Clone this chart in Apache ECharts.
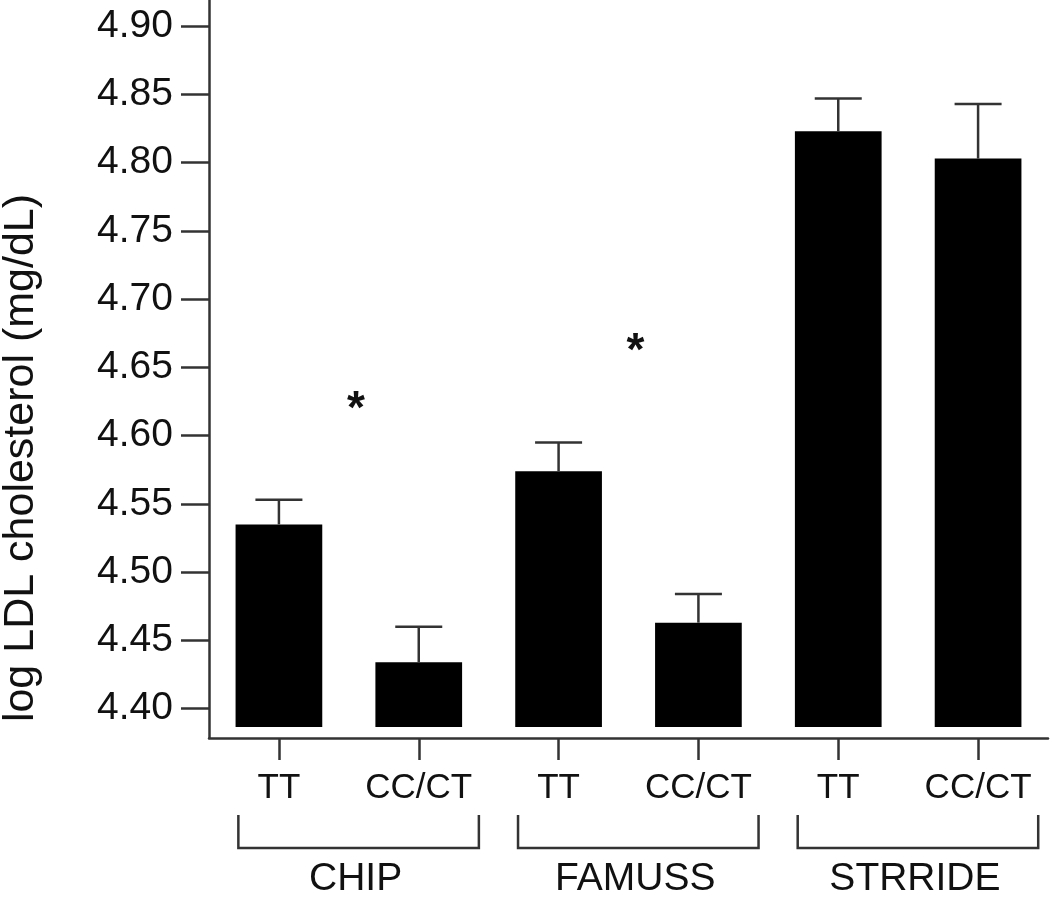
<!DOCTYPE html>
<html>
<head>
<meta charset="utf-8">
<script src="https://cdn.jsdelivr.net/npm/echarts@6/dist/echarts.min.js"></script>
<style>
html,body{margin:0;padding:0;background:#ffffff;}
#chart{width:1050px;height:900px;}
</style>
</head>
<body>
<div id="chart"></div>
<script>
// ---- data ----
const categories = ['TT', 'CC/CT', 'TT', 'CC/CT', 'TT', 'CC/CT'];
const groupNames = ['CHIP', 'FAMUSS', 'STRRIDE'];
const meanValues = [4.535, 4.434, 4.574, 4.463, 4.823, 4.803];
const errorTopValues = [4.553, 4.460, 4.595, 4.484, 4.847, 4.843];
const yTickValues = [4.40, 4.45, 4.50, 4.55, 4.60, 4.65, 4.70, 4.75, 4.80, 4.85, 4.90];
const significantGroups = [0, 1];
const yAxisTitle = 'log LDL cholesterol (mg/dL)';
const barBaseValue = 4.3866;
const yAxisMin = 4.3785;
const yAxisMax = 4.9192;

// ---- styles ----
const FONT = '"Liberation Sans", Arial, Helvetica, sans-serif';
const LINE = '#333333';
const TEXT = '#111111';

const chart = echarts.init(document.getElementById('chart'), null, { renderer: 'canvas' });

const option = {
  animation: false,
  backgroundColor: '#ffffff',
  grid: { left: 209, right: 2, top: 0, bottom: 162, containLabel: false },
  xAxis: {
    type: 'category',
    data: categories,
    boundaryGap: true,
    axisLine: { show: true, onZero: false, lineStyle: { color: LINE, width: 2.5 } },
    axisTick: { show: true, alignWithLabel: true, length: 22, lineStyle: { color: LINE, width: 2.5 } },
    axisLabel: { show: true, interval: 0, margin: 33, fontSize: 35, lineHeight: 35, color: TEXT, fontFamily: FONT },
    splitLine: { show: false }
  },
  yAxis: {
    type: 'value',
    min: yAxisMin,
    max: yAxisMax,
    axisLine: { show: true, lineStyle: { color: LINE, width: 2.5 } },
    axisTick: { show: true, length: 28, customValues: yTickValues, lineStyle: { color: LINE, width: 2.5 } },
    axisLabel: {
      show: true,
      customValues: yTickValues,
      formatter: function (v) { return Number(v).toFixed(2); },
      margin: 36,
      fontSize: 39,
      color: TEXT,
      fontFamily: FONT
    },
    splitLine: { show: false }
  },
  graphic: [
    {
      type: 'text',
      x: 21,
      y: 458,
      rotation: Math.PI / 2,
      style: {
        text: yAxisTitle,
        fontSize: 43,
        fontFamily: FONT,
        fill: TEXT,
        align: 'center',
        verticalAlign: 'middle'
      }
    }
  ],
  series: [
    {
      name: 'Mean',
      type: 'custom',
      data: meanValues.map(function (v, i) { return [i, v]; }),
      encode: { x: 0, y: 1 },
      renderItem: function (params, api) {
        const i = api.value(0);
        const top = api.coord([i, api.value(1)]);
        const bottom = api.coord([i, barBaseValue]);
        const w = api.size([1, 0])[0] * 0.62;
        return {
          type: 'rect',
          shape: { x: top[0] - w / 2, y: top[1], width: w, height: bottom[1] - top[1] },
          style: { fill: '#000000' }
        };
      },
      z: 2
    },
    {
      name: 'SE',
      type: 'custom',
      data: meanValues.map(function (v, i) { return [i, v, errorTopValues[i]]; }),
      encode: { x: 0, y: [1, 2] },
      renderItem: function (params, api) {
        const i = api.value(0);
        const p0 = api.coord([i, api.value(1)]);
        const p1 = api.coord([i, api.value(2)]);
        const half = 23.5;
        const st = { stroke: LINE, lineWidth: 2.5 };
        return {
          type: 'group',
          children: [
            { type: 'line', shape: { x1: p0[0], y1: p0[1], x2: p1[0], y2: p1[1] }, style: st },
            { type: 'line', shape: { x1: p1[0] - half, y1: p1[1], x2: p1[0] + half, y2: p1[1] }, style: st }
          ]
        };
      },
      z: 3
    },
    {
      name: 'Groups',
      type: 'custom',
      clip: false,
      data: groupNames.map(function (n, g) { return [2 * g, 2 * g + 1]; }),
      renderItem: function (params, api) {
        const a = api.value(0), b = api.value(1);
        const band = api.size([1, 0])[0];
        const ca = api.coord([a, yAxisMin]);
        const cb = api.coord([b, yAxisMin]);
        const axisY = ca[1];
        const left = ca[0] - 0.29 * band;
        const right = cb[0] + 0.43 * band;
        const yTop = axisY + 77;
        const yBot = axisY + 110;
        const st = { stroke: LINE, lineWidth: 2.5, fill: null };
        return {
          type: 'group',
          children: [
            { type: 'polyline', shape: { points: [[left, yTop], [left, yBot], [right, yBot], [right, yTop]] }, style: st },
            {
              type: 'text',
              x: (left + right) / 2 - 3,
              y: axisY + 141,
              style: {
                text: groupNames[params.dataIndex],
                fontSize: 39,
                fontFamily: FONT,
                fill: TEXT,
                align: 'center',
                verticalAlign: 'middle'
              }
            }
          ]
        };
      }
    },
    {
      name: 'Significance',
      type: 'custom',
      clip: false,
      data: significantGroups.map(function (g) { return [2 * g, 2 * g + 1]; }),
      renderItem: function (params, api) {
        const a = api.value(0), b = api.value(1);
        const ya = api.coord([a, errorTopValues[a]]);
        const yb = api.coord([b, errorTopValues[b]]);
        const x = (ya[0] + yb[0]) / 2 + 7;
        const y = Math.min(ya[1], yb[1]) - 90;
        return {
          type: 'text',
          x: x,
          y: y,
          style: {
            text: '*',
            fontSize: 46,
            fontWeight: 'bold',
            fontFamily: FONT,
            fill: TEXT,
            align: 'center',
            verticalAlign: 'middle'
          }
        };
      }
    }
  ]
};

chart.setOption(option);
</script>
</body>
</html>
